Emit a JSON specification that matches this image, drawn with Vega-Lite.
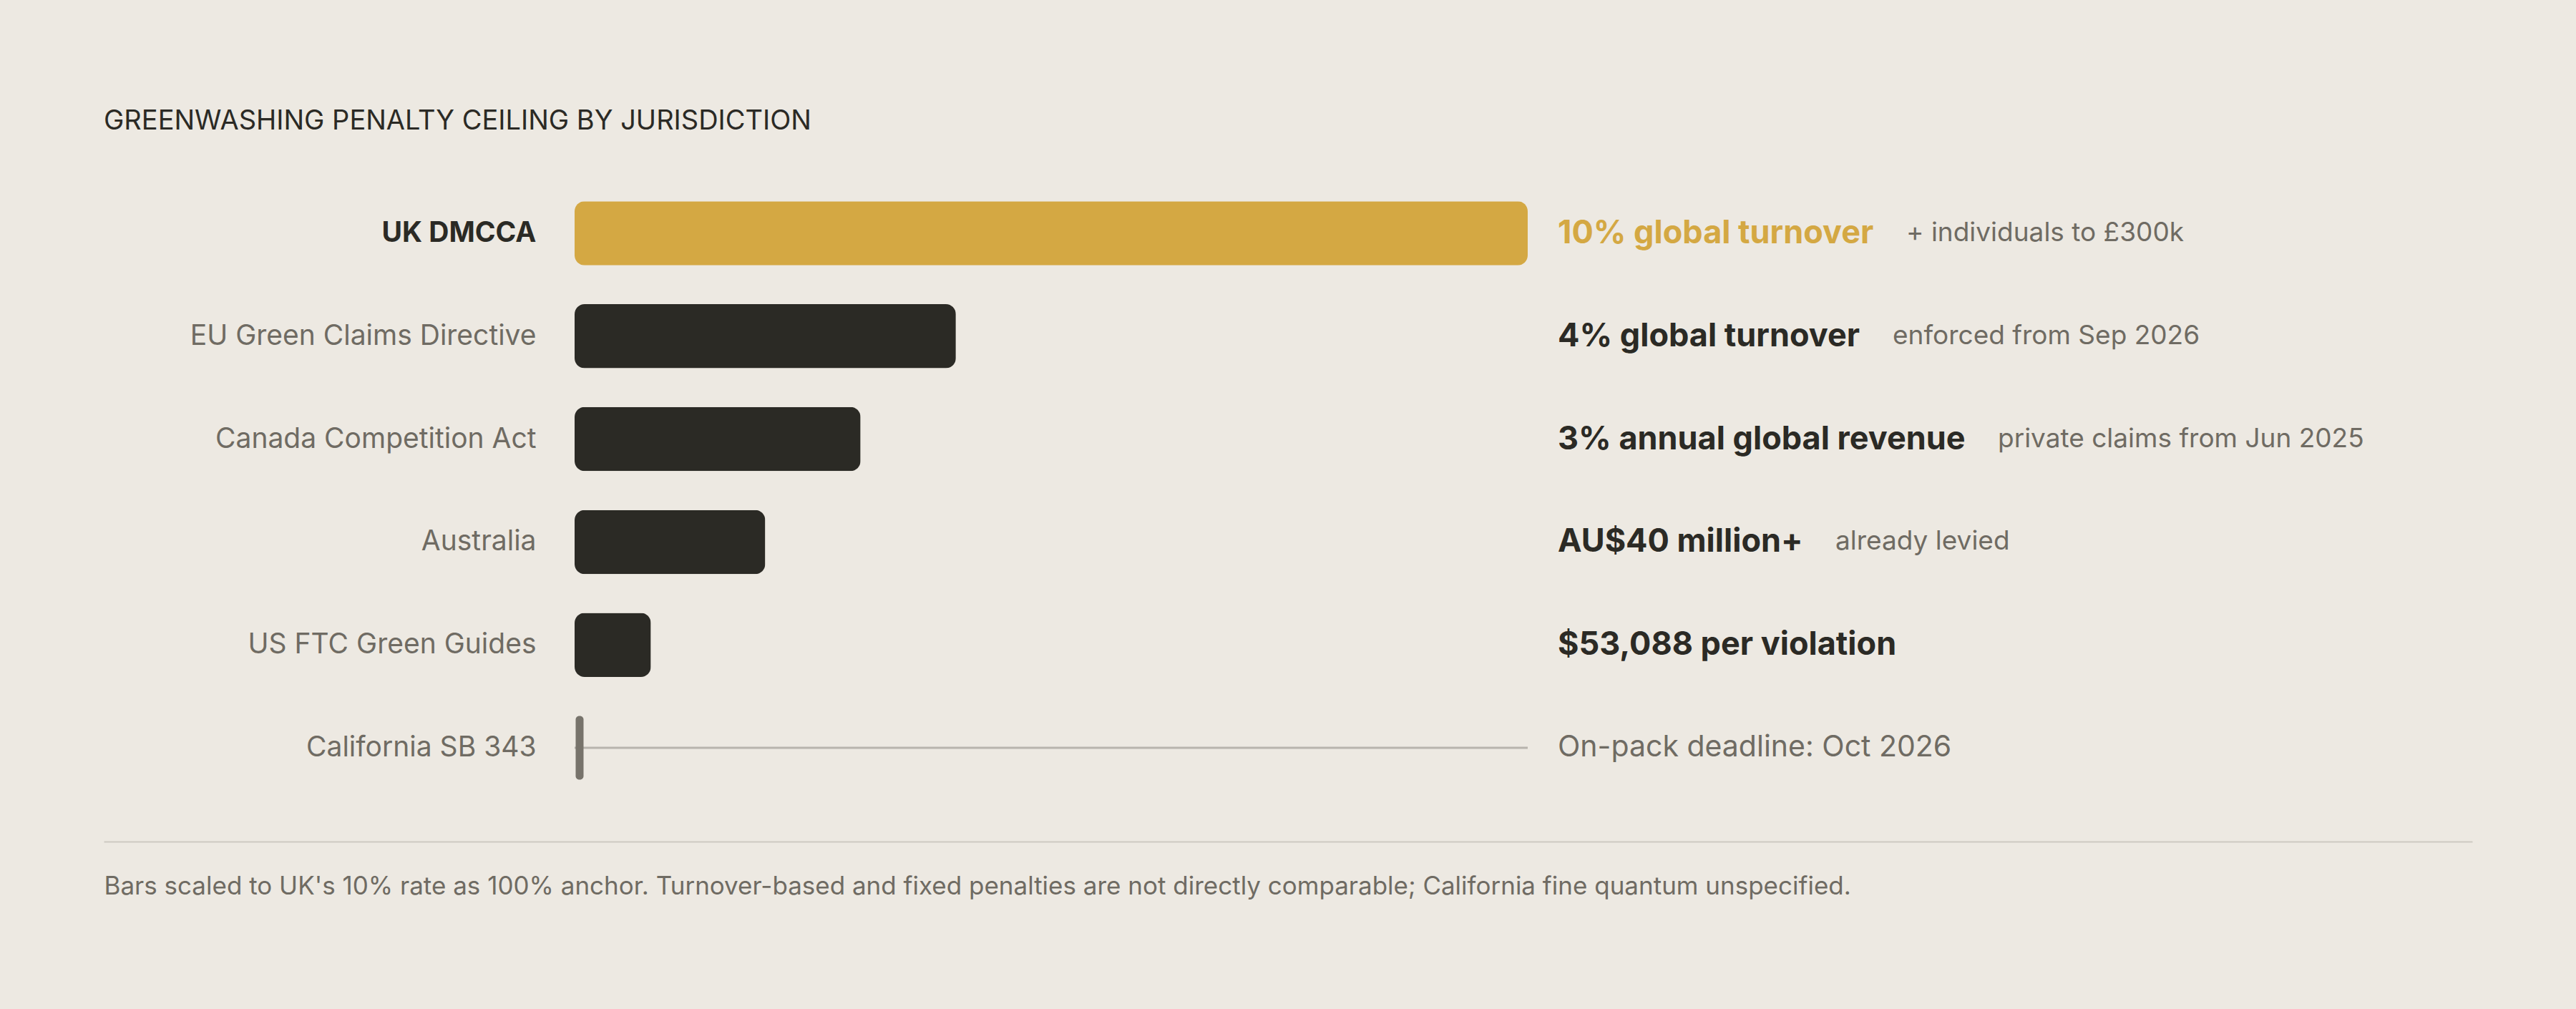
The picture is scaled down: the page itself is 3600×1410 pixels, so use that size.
{
  "$schema": "https://vega.github.io/schema/vega-lite/v6.json",
  "width": 3310,
  "height": 863,
  "autosize": {"type": "none"},
  "padding": {"left": 145, "right": 145, "top": 254, "bottom": 293},
  "background": "#EDE9E2",
  "config": {"view": {"stroke": null}, "font": "Inter"},
  "title": {
    "text": "GREENWASHING PENALTY CEILING BY JURISDICTION",
    "anchor": "start", "frame": "group", "baseline": "alphabetic", "offset": 35,
    "font": "Inter", "fontSize": 38, "fontWeight": 400, "color": "#2B2A25"
  },
  "data": {
    "values": [
      {"jurisdiction": "UK DMCCA", "pct": 100, "headline": "10% global turnover", "note": "+ individuals to £300k"},
      {"jurisdiction": "EU Green Claims Directive", "pct": 40, "headline": "4% global turnover", "note": "enforced from Sep 2026"},
      {"jurisdiction": "Canada Competition Act", "pct": 30, "headline": "3% annual global revenue", "note": "private claims from Jun 2025"},
      {"jurisdiction": "Australia", "pct": 20, "headline": "AU$40 million+", "note": "already levied"},
      {"jurisdiction": "US FTC Green Guides", "pct": 8, "headline": "$53,088 per violation", "note": ""},
      {"jurisdiction": "California SB 343", "pct": null, "headline": "On-pack deadline: Oct 2026", "note": ""}
    ]
  },
  "encoding": {
    "y": {
      "field": "jurisdiction", "type": "nominal", "sort": null,
      "scale": {"paddingInner": 0.378, "paddingOuter": 0.189},
      "axis": {
        "title": null, "domain": false, "ticks": false, "grid": false,
        "offset": -658, "labelPadding": 54, "labelLimit": 0,
        "labelFont": "Inter", "labelFontSize": 39,
        "labelColor": {"condition": {"test": "datum.value === 'UK DMCCA'", "value": "#2B2A25"}, "value": "#6F6B63"},
        "labelFontWeight": {"condition": {"test": "datum.value === 'UK DMCCA'", "value": "bold"}, "value": "normal"}
      }
    }
  },
  "layer": [
    {
      "transform": [{"filter": "datum.pct > 0"}],
      "mark": {"type": "bar", "cornerRadius": 14},
      "encoding": {
        "x": {
          "field": "pct", "type": "quantitative",
          "scale": {"domain": [-49.4, 199.1], "nice": false, "zero": false},
          "axis": {
            "orient": "bottom", "offset": 59, "domain": true, "domainColor": "#CDC9C1", "domainWidth": 2,
            "ticks": false, "labels": false, "grid": false,
            "title": "Bars scaled to UK's 10% rate as 100% anchor. Turnover-based and fixed penalties are not directly comparable; California fine quantum unspecified.",
            "titleAnchor": "start", "titleAlign": "left", "titlePadding": 45,
            "titleFont": "Inter", "titleFontSize": 35, "titleFontWeight": "normal", "titleColor": "#6F6B63"
          }
        },
        "color": {"condition": {"test": "datum.jurisdiction === 'UK DMCCA'", "value": "#D4A843"}, "value": "#2B2A25"}
      }
    },
    {
      "transform": [{"filter": "datum.jurisdiction === 'California SB 343'"}],
      "mark": {"type": "rule", "stroke": "#B8B4AD", "strokeWidth": 3},
      "encoding": {"x": {"datum": 0}, "x2": {"datum": 100}}
    },
    {
      "transform": [{"filter": "datum.jurisdiction === 'California SB 343'"}],
      "mark": {"type": "tick", "orient": "vertical", "thickness": 11, "size": 89, "cornerRadius": 5, "xOffset": 7, "color": "#77736B", "opacity": 1},
      "encoding": {"x": {"datum": 0}}
    },
    {
      "transform": [{"filter": "datum.pct > 0"}],
      "mark": {"type": "text", "align": "left", "baseline": "middle", "dx": 42, "font": "Inter", "fontSize": 45, "fontWeight": "bold"},
      "encoding": {
        "x": {"datum": 100},
        "text": {"field": "headline"},
        "color": {"condition": {"test": "datum.jurisdiction === 'UK DMCCA'", "value": "#D4A843"}, "value": "#2B2A25"}
      }
    },
    {
      "transform": [{"filter": "datum.jurisdiction === 'California SB 343'"}],
      "mark": {"type": "text", "align": "left", "baseline": "middle", "dx": 42, "font": "Inter", "fontSize": 41, "color": "#6F6B63"},
      "encoding": {"x": {"datum": 100}, "text": {"field": "headline"}}
    },
    {
      "transform": [{"filter": "datum.jurisdiction === 'UK DMCCA'"}],
      "mark": {"type": "text", "align": "left", "baseline": "middle", "dx": 529, "font": "Inter", "fontSize": 37, "color": "#6F6B63"},
      "encoding": {"x": {"datum": 100}, "text": {"field": "note"}}
    },
    {
      "transform": [{"filter": "datum.jurisdiction === 'EU Green Claims Directive'"}],
      "mark": {"type": "text", "align": "left", "baseline": "middle", "dx": 510, "font": "Inter", "fontSize": 37, "color": "#6F6B63"},
      "encoding": {"x": {"datum": 100}, "text": {"field": "note"}}
    },
    {
      "transform": [{"filter": "datum.jurisdiction === 'Canada Competition Act'"}],
      "mark": {"type": "text", "align": "left", "baseline": "middle", "dx": 657, "font": "Inter", "fontSize": 37, "color": "#6F6B63"},
      "encoding": {"x": {"datum": 100}, "text": {"field": "note"}}
    },
    {
      "transform": [{"filter": "datum.jurisdiction === 'Australia'"}],
      "mark": {"type": "text", "align": "left", "baseline": "middle", "dx": 430, "font": "Inter", "fontSize": 37, "color": "#6F6B63"},
      "encoding": {"x": {"datum": 100}, "text": {"field": "note"}}
    }
  ]
}
